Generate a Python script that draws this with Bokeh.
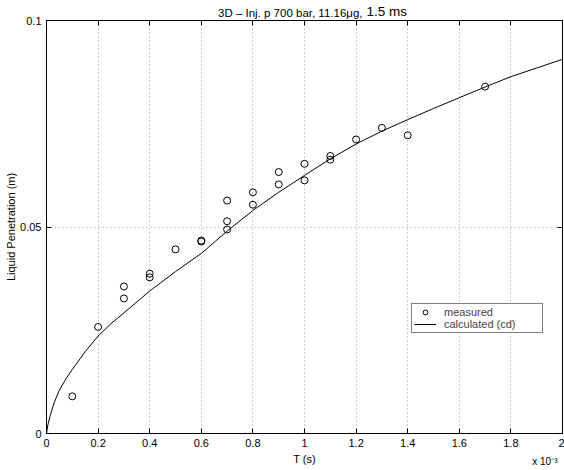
from bokeh.plotting import figure
from bokeh.models import Range1d, FixedTicker, LinearAxis, Legend, LegendItem, Title
from bokeh.embed import file_html
from bokeh.resources import INLINE

# measured points (T in units of 1e-3 s, liquid penetration in m)
t_meas = [0.1, 0.2, 0.3, 0.3, 0.4, 0.4, 0.5, 0.6, 0.6, 0.7, 0.7, 0.7,
          0.8, 0.8, 0.9, 0.9, 1.0, 1.0, 1.1, 1.1, 1.2, 1.3, 1.4, 1.7]
l_meas = [0.0090, 0.0258, 0.0356, 0.0327, 0.0387, 0.0378, 0.0446, 0.0465, 0.0467,
          0.0564, 0.0514, 0.0494, 0.0584, 0.0554, 0.0633, 0.0603, 0.0653, 0.0613,
          0.0672, 0.0663, 0.0712, 0.0740, 0.0722, 0.0840]

# calculated (cd) curve
t_calc = [0, 0.005, 0.015, 0.03, 0.05, 0.075, 0.1, 0.15, 0.2, 0.25, 0.3, 0.4, 0.5,
          0.6, 0.7, 0.8, 0.9, 1.0, 1.1, 1.2, 1.3, 1.4, 1.5, 1.6, 1.7, 1.8, 1.9, 2.0]
l_calc = [0, 0.0020, 0.0045, 0.0075, 0.0105, 0.0132, 0.0155, 0.0198, 0.0236, 0.0266,
          0.0292, 0.0345, 0.0392, 0.0436, 0.0490, 0.0540, 0.0584, 0.0625, 0.0665,
          0.0701, 0.0732, 0.0760, 0.0787, 0.0813, 0.0839, 0.0864, 0.0885, 0.0906]

x_ticks = [0, 0.2, 0.4, 0.6, 0.8, 1.0, 1.2, 1.4, 1.6, 1.8, 2.0]
x_tick_labels = ["0", "0.2", "0.4", "0.6", "0.8", "1", "1.2", "1.4", "1.6", "1.8", "2"]
y_ticks = [0, 0.05, 0.1]
y_tick_labels = ["0", "0.05", "0.1"]

title_main = "3D – Inj. p 700 bar, 11.16μg,"
title_tail = "1.5 ms"
x_label = "T (s)"
y_label = "Liquid Penetration (m)"
multiplier = "x 10⁻³"

FONT = "Liberation Sans"

p = figure(width=564, height=470, output_backend="svg", toolbar_location=None,
           x_range=Range1d(0, 2), y_range=Range1d(0, 0.1),
           min_border_left=46, min_border_right=2, min_border_top=20, min_border_bottom=37)
p.background_fill_color = "white"
p.border_fill_color = "white"
p.outline_line_color = "black"
p.outline_line_width = 1
p.outline_line_alpha = 1

xt = FixedTicker(ticks=x_ticks)
yt = FixedTicker(ticks=y_ticks)

for ax, ticker, labels in ((p.xaxis[0], xt, x_tick_labels), (p.yaxis[0], yt, y_tick_labels)):
    ax.ticker = ticker
    ax.major_label_overrides = {t: l for t, l in zip(ticker.ticks, labels)}
    ax.minor_tick_line_color = None
    ax.major_tick_in = 5
    ax.major_tick_out = 0
    ax.major_tick_line_color = "black"
    ax.axis_line_color = "black"
    ax.major_label_text_font = FONT
    ax.major_label_text_font_size = "11px"
    ax.major_label_text_color = "black"
    ax.axis_label_text_font = FONT
    ax.axis_label_text_font_size = "11px"
    ax.axis_label_text_font_style = "normal"
    ax.axis_label_text_color = "black"
    ax.major_label_standoff = 5

p.xaxis[0].axis_label = x_label
p.xaxis[0].axis_label_standoff = 3
p.yaxis[0].axis_label = y_label
p.yaxis[0].axis_label_standoff = 0

# top and right tick-only axes (no tick labels)
top = LinearAxis(ticker=FixedTicker(ticks=x_ticks),
                 major_label_overrides={t: "" for t in x_ticks},
                 minor_tick_line_color=None, major_tick_in=5, major_tick_out=0,
                 major_label_standoff=0,
                 axis_line_color="black", major_tick_line_color="black")
right = LinearAxis(ticker=FixedTicker(ticks=y_ticks),
                   major_label_overrides={t: "" for t in y_ticks},
                   minor_tick_line_color=None, major_tick_in=5, major_tick_out=0,
                   major_label_standoff=0,
                   axis_line_color="black", major_tick_line_color="black")
p.add_layout(top, "above")
p.add_layout(right, "right")

p.xgrid.ticker = xt
p.ygrid.ticker = FixedTicker(ticks=[0.05])
for g in (p.xgrid[0], p.ygrid[0]):
    g.grid_line_color = "#9a9a9a"
    g.grid_line_dash = "1 3"
    g.grid_line_width = 1

r_meas = p.scatter(t_meas, l_meas, marker="circle", size=7, fill_color=None,
                   line_color="black", line_width=1)
r_calc = p.line(t_calc, l_calc, line_color="black", line_width=1)

legend = Legend(items=[LegendItem(label="measured", renderers=[r_meas]),
                       LegendItem(label="calculated (cd)", renderers=[r_calc])],
                location=(365, 100), orientation="vertical",
                border_line_color="black", border_line_width=1,
                background_fill_color="white", background_fill_alpha=1,
                padding=2, spacing=0, margin=0,
                label_text_font=FONT, label_text_font_size="11px",
                label_height=12, glyph_height=12, glyph_width=22,
                label_standoff=8, label_width=96)
p.add_layout(legend, "center")

# title in the top panel: main part (right end near x=362) and larger tail (from x=366)
p.add_layout(Title(text=title_main, align="right", offset=200, standoff=3,
                   text_font=FONT, text_font_size="11.5px", text_font_style="normal",
                   text_color="black"), "above")
p.add_layout(Title(text=title_tail, align="left", offset=320, standoff=-31,
                   text_font=FONT, text_font_size="13.5px", text_font_style="normal",
                   text_color="black"), "above")

# x 10^-3 multiplier under the axis, right aligned
p.add_layout(Title(text=multiplier, align="right", offset=5, standoff=-24,
                   vertical_align="top",
                   text_font=FONT, text_font_size="10px", text_font_style="normal",
                   text_color="black"), "below")

open("out.html", "w").write(file_html(p, INLINE))
